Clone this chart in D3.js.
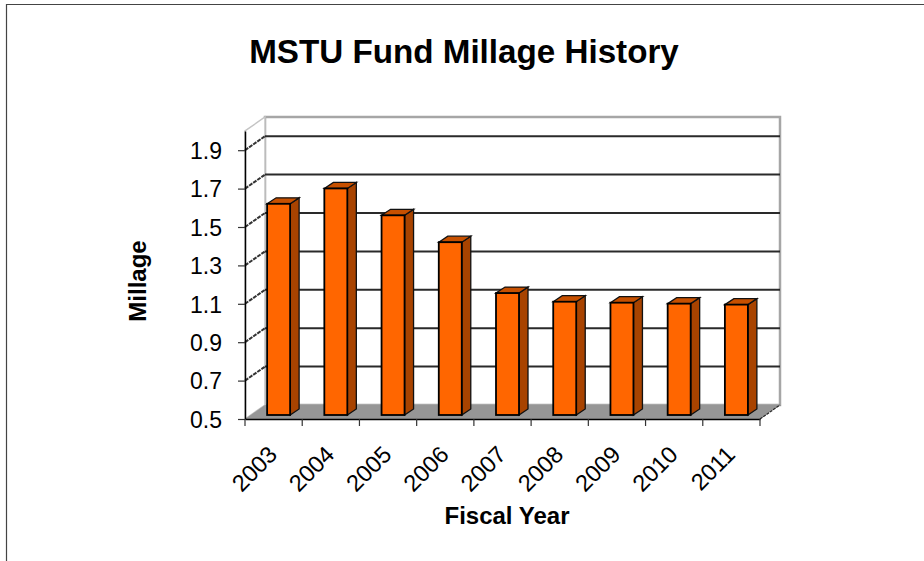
<!DOCTYPE html>
<html>
<head>
<meta charset="utf-8">
<script src="https://d3js.org/d3.v7.min.js"></script>
<style>
  html, body { margin: 0; padding: 0; background: #fff; }
  svg { display: block; }
  text { font-family: "Liberation Sans", Arial, sans-serif; fill: #000; }
</style>
</head>
<body>
<div id="chart"></div>
<script>
const years = ["2003", "2004", "2005", "2006", "2007", "2008", "2009", "2010", "2011"];
const millage = [1.6, 1.68, 1.54, 1.4, 1.135, 1.09, 1.085, 1.08, 1.075];
const yTicks = [0.5, 0.7, 0.9, 1.1, 1.3, 1.5, 1.7, 1.9];

const svg = d3.select("#chart").append("svg")
    .attr("width", 924)
    .attr("height", 561);

// Outer frame, only top and left show
svg.append("path")
    .attr("d", "M6.5,561V4.5H924")
    .attr("fill", "none")
    .attr("stroke", "#444")
    .attr("stroke-width", 1.2);

const x = d3.scaleBand().domain(years).range([245, 760]);
const y = d3.scaleLinear().domain([0.5, 2.0]).range([419, 131]);

// Depth of the fake 3D box
const depthX = 20, depthY = -14;
const barDepthX = 9, barDepthY = -6;
const barOffX = 5, barOffY = -4;
const barW = 23;

const left = x.range()[0];
const right = x.range()[1];

// Back wall
svg.append("rect")
    .attr("x", left + depthX).attr("y", y(2.0) + depthY)
    .attr("width", right - left).attr("height", y(0.5) - y(2.0))
    .attr("fill", "#fff")
    .attr("stroke", "#a6a6a6")
    .attr("stroke-width", 2.5);

// Side wall
svg.append("path")
    .attr("d", `M${left},${y(0.5)}V${y(2.0)}l${depthX},${depthY}V${y(0.5) + depthY}Z`)
    .attr("fill", "#fff")
    .attr("stroke", "#c4c4c4")
    .attr("stroke-width", 1.5);

// Floor
svg.append("path")
    .attr("d", `M${left},${y(0.5)}H${right}l${depthX},${depthY}H${left + depthX}Z`)
    .attr("fill", "#969696");
svg.append("line")
    .attr("x1", right).attr("y1", y(0.5))
    .attr("x2", right + depthX).attr("y2", y(0.5) + depthY)
    .attr("stroke", "#222")
    .attr("stroke-width", 1.2)
    .attr("stroke-dasharray", "3,1");

// Gridlines on back wall and side wall
const grid = yTicks.filter(d => d > 0.5);
svg.append("g").selectAll("line.back").data(grid).join("line")
    .attr("class", "back")
    .attr("x1", left + depthX).attr("x2", right + depthX)
    .attr("y1", d => y(d) + depthY).attr("y2", d => y(d) + depthY)
    .attr("stroke", "#2a2a2a")
    .attr("stroke-width", 2);
svg.append("g").selectAll("line.side").data(grid).join("line")
    .attr("class", "side")
    .attr("x1", left).attr("x2", left + depthX)
    .attr("y1", d => y(d)).attr("y2", d => y(d) + depthY)
    .attr("stroke", "#333")
    .attr("stroke-width", 2)
    .attr("stroke-dasharray", "4,1");

// Bars
const bars = svg.append("g").selectAll("g").data(years).join("g")
    .attr("transform", d => `translate(${x(d) + (x.bandwidth() - barW) / 2 + barOffX},${barOffY})`);

bars.append("path")
    .attr("d", (d, i) => `M${barW},${y(0.5)}V${y(millage[i])}l${barDepthX},${barDepthY}V${y(0.5) + barDepthY}Z`)
    .attr("fill", "#a84300")
    .attr("stroke", "#111")
    .attr("stroke-width", 1.3);
bars.append("path")
    .attr("d", (d, i) => `M0,${y(millage[i])}l${barDepthX},${barDepthY}H${barW + barDepthX}l${-barDepthX},${-barDepthY}Z`)
    .attr("fill", "#c75000")
    .attr("stroke", "#111")
    .attr("stroke-width", 1.3);
bars.append("rect")
    .attr("x", 0).attr("width", barW)
    .attr("y", (d, i) => y(millage[i]))
    .attr("height", (d, i) => y(0.5) - y(millage[i]))
    .attr("fill", "#ff6600")
    .attr("stroke", "#000")
    .attr("stroke-width", 1.8);

// Axes
const yAxis = svg.append("g")
    .attr("transform", `translate(${left},0)`)
    .call(d3.axisLeft(y).tickValues(yTicks).tickFormat(d3.format(".1f")).tickSize(7).tickPadding(16).tickSizeOuter(0));
yAxis.select(".domain").attr("stroke", "#000").attr("stroke-width", 1.5);
yAxis.selectAll("line").attr("stroke", "#333").attr("stroke-width", 1.2);
yAxis.selectAll("text").style("font-size", "23px").attr("fill", "#000").attr("dy", "0.36em");

const xAxis = svg.append("g")
    .attr("transform", `translate(0,${y(0.5)})`)
    .call(d3.axisBottom(x).tickValues([]).tickSize(0));
xAxis.select(".domain").attr("stroke", "#000").attr("stroke-width", 1.5);

// Ticks sit on the band edges, labels hang off the band centres
const xEdges = x.domain().map(d => x(d)).concat([right]);
svg.append("g").selectAll("line").data(xEdges).join("line")
    .attr("x1", d => d).attr("x2", d => d)
    .attr("y1", y(0.5)).attr("y2", y(0.5) + 7)
    .attr("stroke", "#333")
    .attr("stroke-width", 1.2);

svg.append("g").selectAll("text").data(years).join("text")
    .attr("transform", d => `translate(${x(d) + x.bandwidth() / 2 + 5},${y(0.5) + 37})rotate(-45)`)
    .attr("text-anchor", "end")
    .style("font-size", "23.5px")
    .text(d => d);

// Titles
svg.append("text")
    .attr("x", 464).attr("y", 63)
    .attr("text-anchor", "middle")
    .style("font-size", "33.2px").style("font-weight", "bold")
    .text("MSTU Fund Millage History");
svg.append("text")
    .attr("x", 507).attr("y", 524)
    .attr("text-anchor", "middle")
    .style("font-size", "24px").style("font-weight", "bold")
    .text("Fiscal Year");
svg.append("text")
    .attr("transform", "translate(146,281)rotate(-90)")
    .attr("text-anchor", "middle")
    .style("font-size", "24px").style("font-weight", "bold")
    .text("Millage");
</script>
</body>
</html>
